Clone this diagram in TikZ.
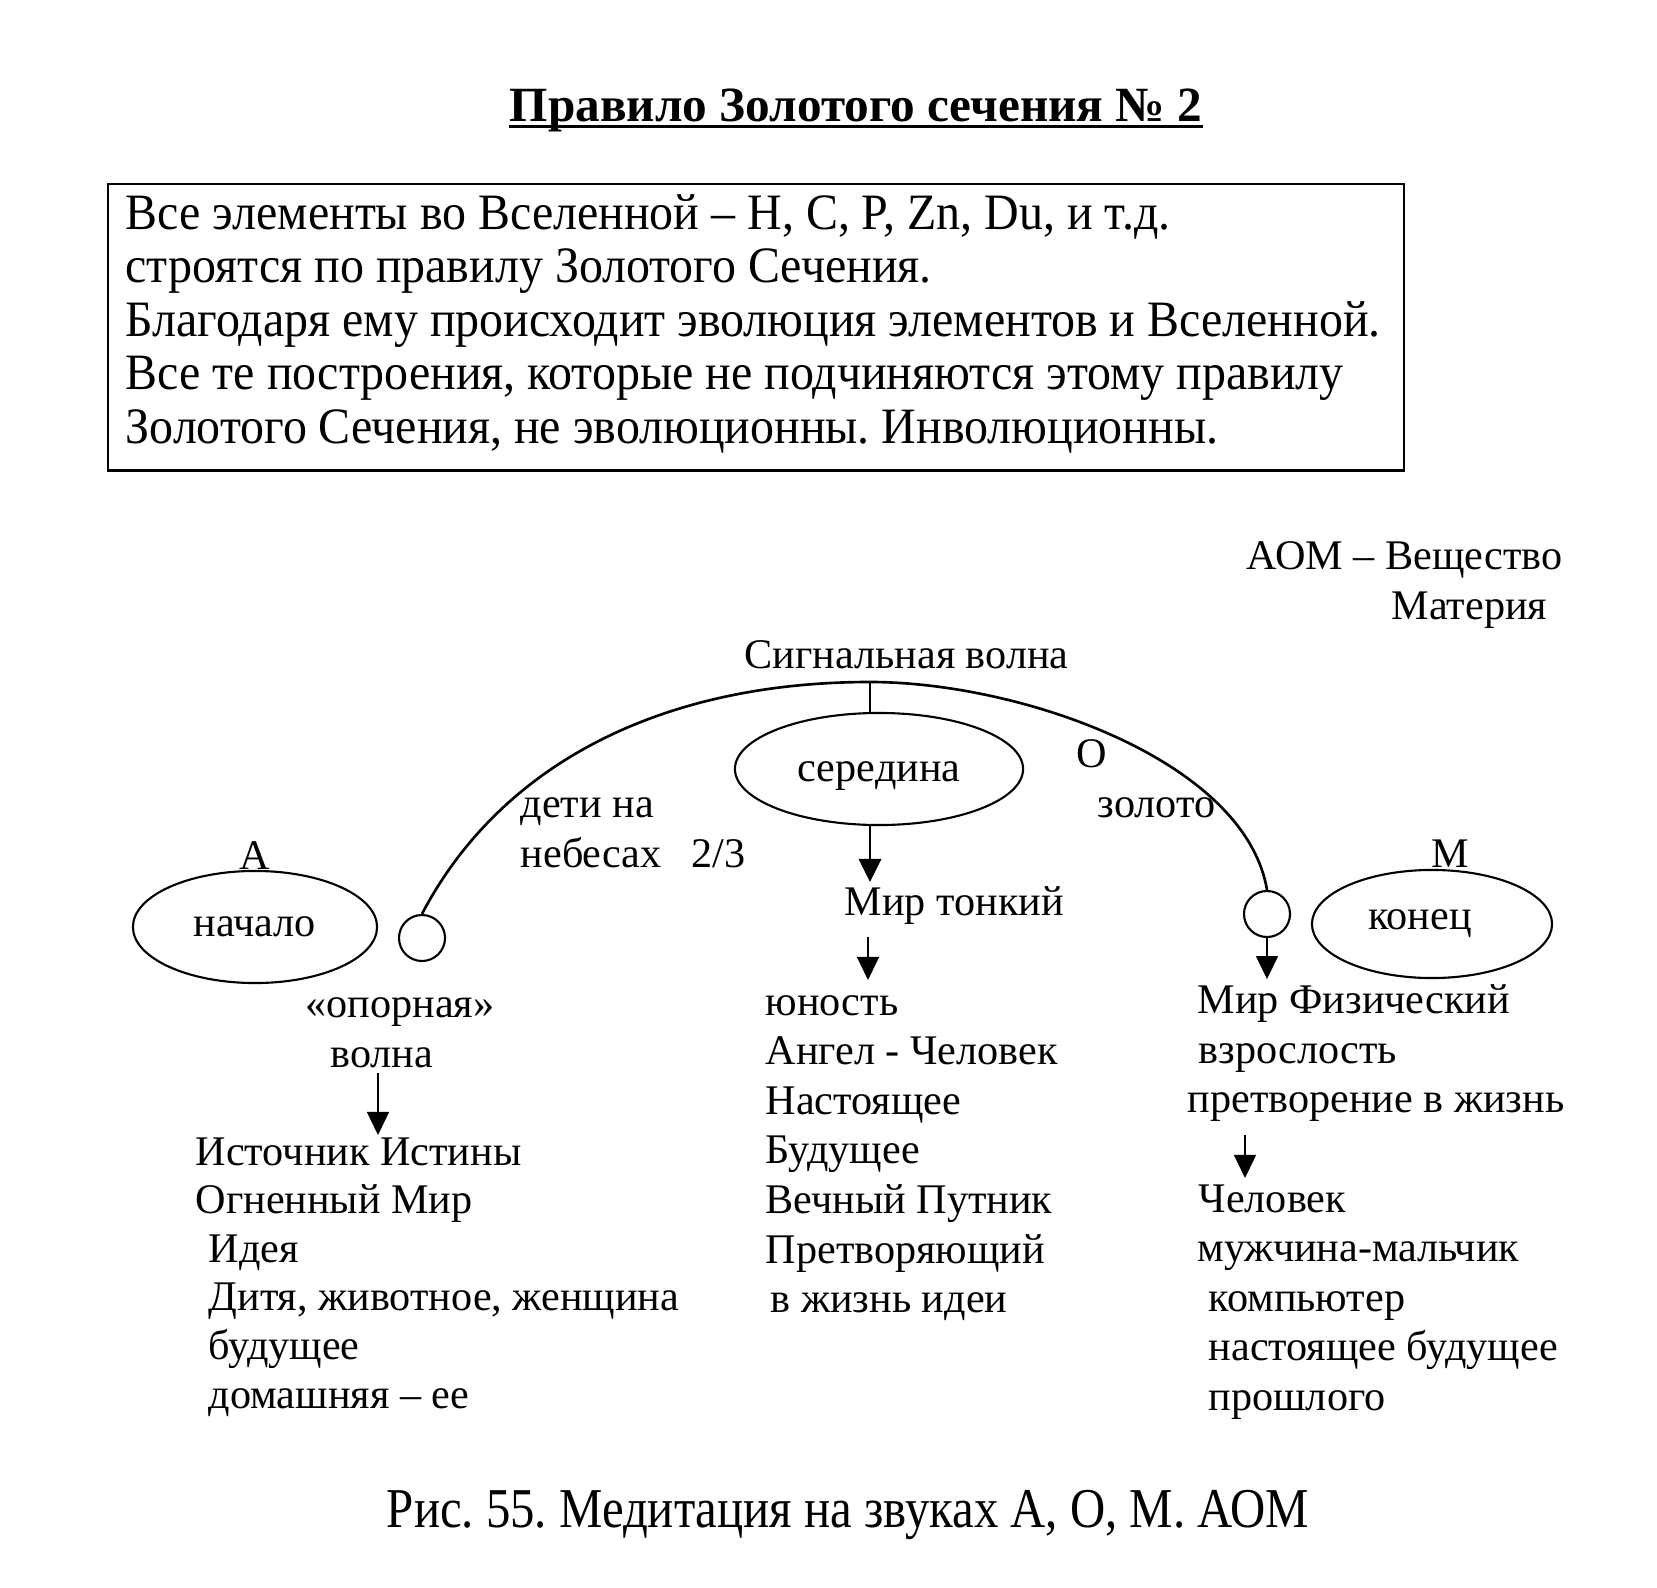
\documentclass[tikz,border=0pt]{standalone}
\usepackage{fontspec}
\setmainfont{Liberation Serif}
\newfontfamily\narrowfont[FakeStretch=0.94]{Liberation Serif}
\newfontfamily\captionfont[FakeStretch=0.867]{Liberation Serif}
\usetikzlibrary{arrows.meta,shapes.geometric}
\frenchspacing

\tikzset{
  txt/.style={inner sep=0pt, anchor=base west, font=\fontsize{12}{14}\selectfont},
  boxtxt/.style={inner sep=0pt, anchor=base west, font=\narrowfont\fontsize{14.5}{16}\selectfont},
  oval/.style={draw, ellipse, line width=0.6pt, inner sep=0pt, font=\fontsize{12}{14}\selectfont},
  ring/.style={draw, circle, line width=0.6pt, inner sep=0pt, minimum size=0.46cm},
  arr/.style={line width=0.4pt, -{Triangle[length=2.3mm,width=2.2mm]}},
}

\begin{document}
\begin{tikzpicture}[x=0.01cm,y=-0.01cm]
\useasboundingbox (0,0) rectangle (1657,1588);

% Title
\node[inner sep=0pt, anchor=base, font=\fontsize{14}{16}\selectfont\bfseries] (title) at (856,122) {Правило Золотого сечения № 2};
\draw[line width=0.8pt] ([yshift=-1.2pt]title.base west) -- ([yshift=-1.2pt]title.base east);

% Rule box
\node[draw, line width=0.7pt, anchor=north west, inner sep=0pt, minimum width=12.95cm, minimum height=2.86cm] (rulebox) at (107,183) {};
\foreach \ruleline [count=\i from 0] in {{Все элементы во Вселенной – H, C, P, Zn, Du, и т.д.},
    {строятся по правилу Золотого Сечения.},
    {Благодаря ему происходит эволюция элементов и Вселенной.},
    {Все те построения, которые не подчиняются этому правилу},
    {Золотого Сечения, не эволюционны. Инволюционны.}}
  \node[boxtxt] (rule\i) at (125,229+53.6*\i) {\ruleline};

% AOM note
\node[txt] (aom) at (1246,569) {АОМ – Вещество};
\node[txt] (materia) at (1391,619) {Материя};

% Ovals and rings
\node[oval, minimum width=2.44cm, minimum height=1.12cm] (nachalo) at (255,927) {начало};
\node[oval, minimum width=2.88cm, minimum height=1.12cm] (seredina) at (879,769) {\rule{0pt}{9.5pt}середина};
\node[oval, minimum width=2.40cm, minimum height=1.08cm] (konec) at (1432,924) {\hspace*{-0.12cm}конец\hspace*{0.12cm}};
\node[ring] (lring) at (422,938) {};
\node[ring] (rring) at (1267,914) {};

% Letters A, O, M
\node[txt, anchor=base] (letA) at (255,869) {А};
\node[txt] (letO) at (1076,767) {О};
\node[txt, anchor=base] (letM) at (1450,867) {М};

% Signal wave
\coordinate (peak) at (870,682);
\draw[line width=0.75pt] (lring.north) .. controls (500,765) and (660,682) .. (peak)
  .. controls (1020,682) and (1245,760) .. (rring.north);
\draw[line width=0.45pt] (peak) -- (peak |- seredina.north);
\node[txt] (signal) at (744,668) {Сигнальная волна};
\node[txt] (deti) at (520,817) {дети на};
\node[txt] (nebesa) at (520,867) {небесах\hspace{0.7em}2/3};
\node[txt] (zoloto) at (1097,817) {золото};

% Left column
\node[txt] (opor) at (305,1017) {«опорная»};
\node[txt] (volna) at (330,1067) {волна};
\draw[arr] (378,1073) -- (378,1135);
\foreach \x/\txt [count=\i from 0] in {195/Источник Истины, 195/Огненный Мир, 208/Идея,
    208/{Дитя, животное, женщина}, 208/будущее, 208/домашняя – ее}
  \node[txt] (left\i) at (\x,1165+48.6*\i) {\txt};

% Middle column
\node[txt] (mirton) at (844,915) {Мир тонкий};
\draw[arr, line width=0.8pt] (seredina.south -| peak) -- (870,882);
\draw[arr] (868,937) -- (868,980);
\foreach \x/\txt [count=\i from 0] in {765/юность, 765/Ангел - Человек, 765/Настоящее,
    765/Будущее, 765/Вечный Путник, 765/Претворяющий, 770/в жизнь идеи}
  \node[txt] (mid\i) at (\x,1015+49.6*\i) {\txt};

% Right column
\draw[arr] (rring.south) -- ++(0,41);
\node[txt] (mirfiz) at (1197,1013) {Мир Физический};
\node[txt] (vzrosl) at (1198,1063) {взрослость};
\node[txt] (pretv) at (1187,1112) {претворение в жизнь};
\draw[arr] (1245,1135) -- (1245,1178);
\foreach \x/\txt [count=\i from 0] in {1198/Человек, 1197/мужчина-мальчик, 1208/компьютер,
    1208/настоящее будущее, 1208/прошлого}
  \node[txt] (right\i) at (\x,1212+49.6*\i) {\txt};

% Caption
\node[inner sep=0pt, anchor=base, font=\captionfont\fontsize{16}{19}\selectfont] (caption) at (848,1527) {Рис. 55. Медитация на звуках А, О, М. АОМ};
\end{tikzpicture}
\end{document}
